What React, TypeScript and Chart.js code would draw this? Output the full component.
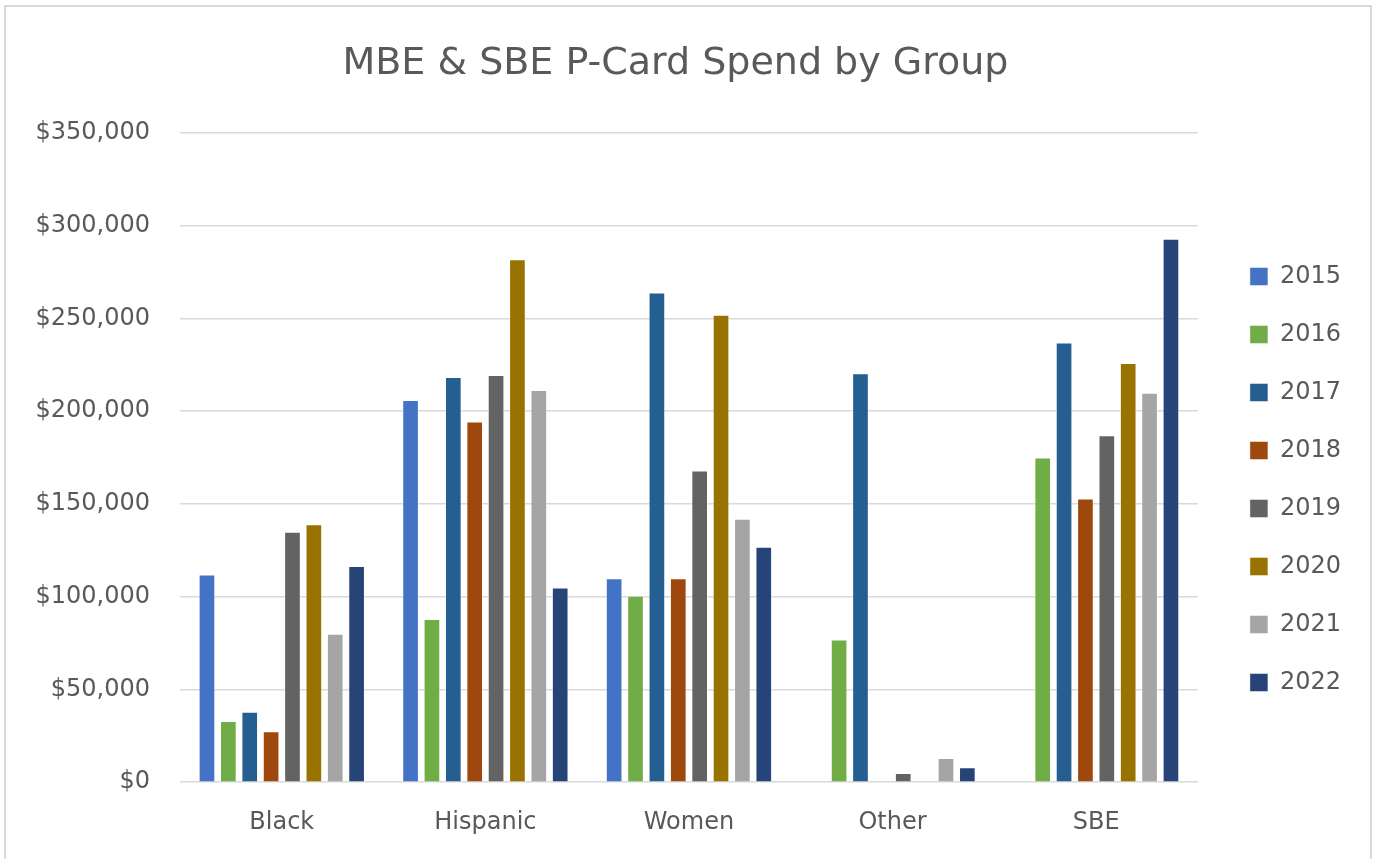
import React, { useEffect, useRef } from "react";
import { Chart, registerables } from "chart.js";

Chart.register(...registerables);

const categories = ["Black", "Hispanic", "Women", "Other", "SBE"];
const years = ["2015", "2016", "2017", "2018", "2019", "2020", "2021", "2022"];

const v2015 = [112000, 206000, 110000, null, null];
const v2016 = [33000, 88000, 100500, 77000, 175000];
const v2017 = [38000, 218500, 264000, 220500, 237000];
const v2018 = [27500, 194500, 110000, null, 153000];
const v2019 = [135000, 219500, 168000, 5000, 187000];
const v2020 = [139000, 282000, 252000, null, 226000];
const v2021 = [80000, 211500, 142000, 13000, 210000];
const v2022 = [116500, 105000, 127000, 8000, 293000];

const seriesValues = [v2015, v2016, v2017, v2018, v2019, v2020, v2021, v2022];
const colors = ["#4472C4", "#70AD47", "#255E91", "#9E480E", "#636363", "#997300", "#A5A5A5", "#264478"];

const yTicks = [0, 50000, 100000, 150000, 200000, 250000, 300000, 350000];
const title = "MBE & SBE P-Card Spend by Group";

const FONT = "'DejaVu Sans', sans-serif";
const TEXT = "#595959";

export default function App() {
  const ref = useRef<HTMLCanvasElement | null>(null);

  useEffect(() => {
    if (!ref.current) return;
    const chart = new Chart(ref.current, {
      type: "bar",
      data: {
        labels: categories,
        datasets: years.map((y, i) => ({
          label: y,
          data: seriesValues[i],
          backgroundColor: colors[i],
          borderColor: "rgba(255,255,255,0.45)",
          borderWidth: 1,
          categoryPercentage: 0.84,
          barPercentage: 0.78,
          yAxisID: "y",
        })),
      },
      options: {
        animation: false,
        responsive: false,
        maintainAspectRatio: false,
        layout: { padding: { left: 0, right: 25, top: 0, bottom: 22 } },
        plugins: {
          title: {
            display: true,
            text: title,
            color: TEXT,
            font: { family: FONT, size: 38, weight: "normal" },
            padding: { top: 41, bottom: 46.4 },
          },
          legend: {
            display: true,
            position: "right",
            title: {
              display: true,
              text: " ",
              font: { family: FONT, size: 10 },
              padding: { top: 0, bottom: 110 },
            },
            labels: {
              color: TEXT,
              font: { family: FONT, size: 24 },
              boxWidth: 18,
              boxHeight: 18,
              padding: 34,
            },
          },
          tooltip: { enabled: false },
        },
        scales: {
          x: {
            grid: { display: false, drawTicks: true, tickLength: 26 },
            border: { display: false },
            ticks: {
              color: TEXT,
              font: { family: FONT, size: 24 },
              padding: 0,
            },
          },
          y: {
            min: 0,
            max: 350000,
            afterFit: (s: any) => {
              s.width = 180;
            },
            afterBuildTicks: (s: any) => {
              s.ticks = yTicks.map((v) => ({ value: v }));
            },
            grid: { color: "#d9d9d9", lineWidth: 1.5, drawTicks: false },
            border: { display: false },
            ticks: {
              color: TEXT,
              font: { family: FONT, size: 24 },
              padding: 30,
              callback: (v: any) => "$" + Number(v).toLocaleString("en-US"),
            },
          },
          y2: {
            position: "right",
            display: true,
            afterFit: (s: any) => {
              s.width = 18;
            },
            grid: { display: false },
            border: { display: false },
            ticks: { display: false },
          },
        },
      },
    });
    return () => chart.destroy();
  }, []);

  return (
    <div style={{ position: "absolute", left: 0, top: 0, width: 1376, height: 859, background: "#fff", overflow: "hidden" }}>
      <div
        style={{
          position: "absolute",
          left: 4,
          top: 5,
          width: 1368,
          height: 854,
          boxSizing: "border-box",
          borderTop: "2px solid #d9d9d9",
          borderLeft: "2px solid #d9d9d9",
          borderRight: "2px solid #d9d9d9",
        }}
      />
      <canvas ref={ref} width={1376} height={859} style={{ position: "absolute", left: 0, top: 0 }} />
    </div>
  );
}
